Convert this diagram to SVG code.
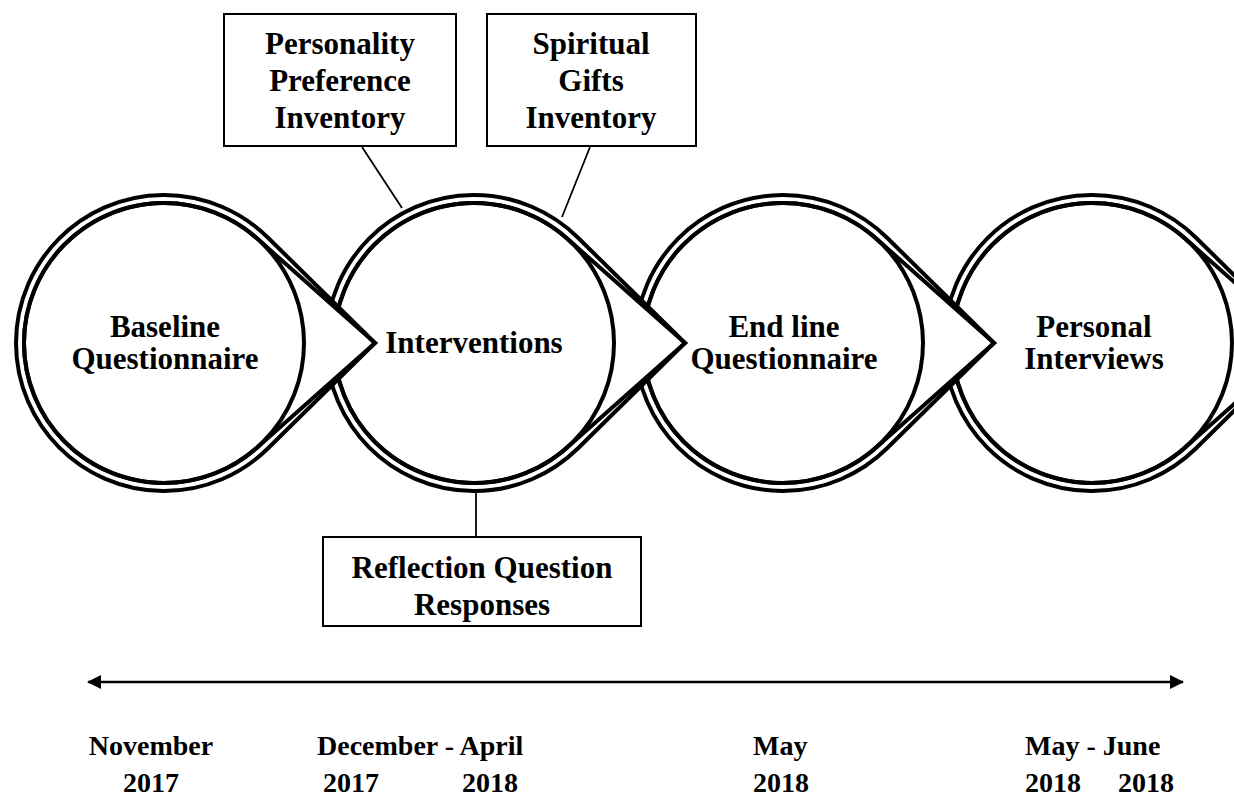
<svg xmlns="http://www.w3.org/2000/svg" width="1234" height="797" viewBox="0 0 1234 797">
<style>
  .t { font-family: "Liberation Serif", "Times New Roman", serif; font-weight: bold; fill: #000; }
  .c { font-size: 31px; text-anchor: middle; }
  .d { font-size: 28px; }
  .outer { fill: #fff; stroke: #000; stroke-width: 4; stroke-linejoin: miter; }
  .inner { fill: none; stroke: #000; stroke-width: 4; stroke-linejoin: miter; }
  .box { fill: #fff; stroke: #000; stroke-width: 2; }
  .conn { stroke: #000; stroke-width: 1.8; fill: none; }
</style>
<defs>
  <g id="drop">
    <path class="outer" d="M211 0 L103.8 -105.5 A148 148 0 1 0 103.8 105.5 Z"/>
    <path class="inner" d="M211 0 L92.9 -104.7 A140 140 0 1 0 92.9 104.7 Z"/>
    <circle class="inner" cx="0" cy="0" r="140"/>
  </g>
  <marker id="ah" viewBox="0 0 14 14" refX="13" refY="7" markerWidth="14" markerHeight="14" markerUnits="userSpaceOnUse" orient="auto-start-reverse">
    <path d="M0 0 L14 7 L0 14 Z" fill="#000"/>
  </marker>
</defs>
<rect x="0" y="0" width="1234" height="797" fill="#fff"/>

<g id="node-personal-interviews">
  <use href="#drop" x="1092" y="343"/>
  <text class="t c" x="1094" y="337">Personal</text>
  <text class="t c" x="1094" y="369">Interviews</text>
</g>
<g id="node-endline">
  <use href="#drop" x="783" y="343"/>
  <text class="t c" x="784" y="337">End line</text>
  <text class="t c" x="784" y="369">Questionnaire</text>
</g>
<g id="node-interventions">
  <use href="#drop" x="474" y="343"/>
  <text class="t c" x="474" y="353">Interventions</text>
</g>
<g id="node-baseline">
  <use href="#drop" x="164" y="343"/>
  <text class="t c" x="165" y="337">Baseline</text>
  <text class="t c" x="165" y="369">Questionnaire</text>
</g>

<g id="connectors">
  <line class="conn" x1="362" y1="147" x2="402" y2="208"/>
  <line class="conn" x1="590" y1="147" x2="562" y2="217"/>
  <line class="conn" x1="476" y1="493" x2="476" y2="537"/>
  <line x1="88" y1="682" x2="1183" y2="682" stroke="#000" stroke-width="2.4" marker-start="url(#ah)" marker-end="url(#ah)"/>
</g>

<g id="box-personality">
  <rect class="box" x="224" y="14" width="232" height="132"/>
  <text class="t c" x="340" y="54">Personality</text>
  <text class="t c" x="340" y="91">Preference</text>
  <text class="t c" x="340" y="128">Inventory</text>
</g>
<g id="box-spiritual">
  <rect class="box" x="487" y="14" width="209" height="132"/>
  <text class="t c" x="591" y="54">Spiritual</text>
  <text class="t c" x="591" y="91">Gifts</text>
  <text class="t c" x="591" y="128">Inventory</text>
</g>
<g id="box-reflection">
  <rect class="box" x="323" y="537" width="318" height="89"/>
  <text class="t c" x="482" y="578">Reflection Question</text>
  <text class="t c" x="482" y="615">Responses</text>
</g>

<g id="dates">
  <text class="t d" x="151" y="755" text-anchor="middle">November</text>
  <text class="t d" x="151" y="792" text-anchor="middle">2017</text>
  <text class="t d" x="317" y="755">December - April</text>
  <text class="t d" y="792"><tspan x="323">2017</tspan><tspan x="462">2018</tspan></text>
  <text class="t d" x="753" y="755">May</text>
  <text class="t d" x="753" y="792">2018</text>
  <text class="t d" x="1025" y="755">May - June</text>
  <text class="t d" y="792"><tspan x="1025">2018</tspan><tspan x="1118">2018</tspan></text>
</g>
</svg>
